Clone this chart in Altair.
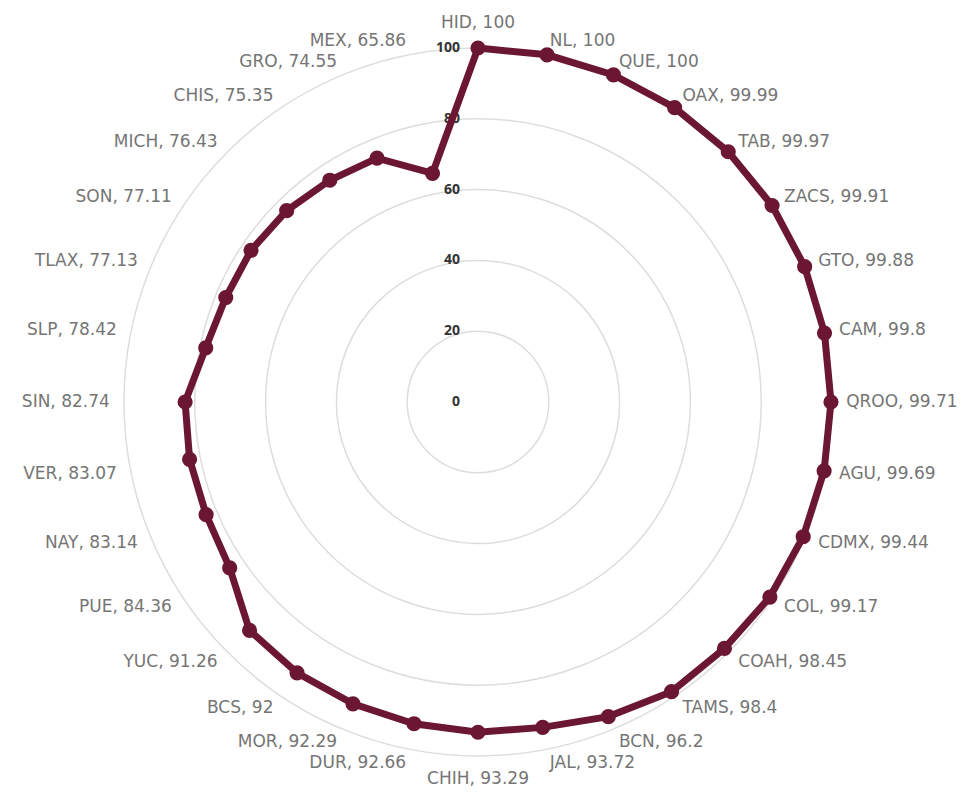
import math
import altair as alt
import pandas as pd

states = ["HID", "NL", "QUE", "OAX", "TAB", "ZACS", "GTO", "CAM", "QROO", "AGU",
          "CDMX", "COL", "COAH", "TAMS", "BCN", "JAL", "CHIH", "DUR", "MOR", "BCS",
          "YUC", "PUE", "NAY", "VER", "SIN", "SLP", "TLAX", "SON", "MICH", "CHIS",
          "GRO", "MEX"]
values = [100, 100, 100, 99.99, 99.97, 99.91, 99.88, 99.8, 99.71, 99.69,
          99.44, 99.17, 98.45, 98.4, 96.2, 93.72, 93.29, 92.66, 92.29, 92,
          91.26, 84.36, 83.14, 83.07, 82.74, 78.42, 77.13, 77.11, 76.43, 75.35,
          74.55, 65.86]
ring_ticks = [0, 20, 40, 60, 80, 100]

N = len(states)
df = pd.DataFrame({"state": states, "value": values, "idx": list(range(N))})
rings = pd.DataFrame({"ring": ring_ticks})

K = 3.54          # pixels per unit
W, H = 956, 785   # whole drawing area
CX, CY = 470, 394 # centre inside the drawing
xdom = [-CX / K, (W - CX) / K]
ydom = [-(H - CY) / K, CY / K]
LABEL_R = 104

xs = alt.Scale(domain=xdom, nice=False, zero=False)
ys = alt.Scale(domain=ydom, nice=False, zero=False)

MAROON = "#6B1733"

base = alt.Chart(df).transform_calculate(
    ang=f"datum.idx * 2 * PI / {N}",
).transform_calculate(
    px="datum.value * sin(datum.ang)",
    py="datum.value * cos(datum.ang)",
    lx=f"{LABEL_R} * sin(datum.ang)",
    ly=f"{LABEL_R} * cos(datum.ang)",
    label="datum.state + ', ' + datum.value",
)

grid = alt.Chart(rings).transform_filter("datum.ring > 0").mark_arc(
    theta=0, theta2=6.2832, fillOpacity=0, stroke="#dddddd", strokeWidth=1.5
).encode(
    x=alt.datum(0, scale=xs, axis=None),
    y=alt.datum(0, scale=ys, axis=None),
    radius=alt.Radius("ring:Q", stack=False,
                      scale=alt.Scale(type="linear", domain=[0, 100], range=[0, 100 * K], zero=True)),
)

ticks = alt.Chart(rings).mark_text(
    align="right", baseline="middle", dx=-18, fontSize=14, fontWeight="bold",
    font="Open Sans", color="#333333"
).encode(
    x=alt.datum(0, scale=xs, axis=None),
    y=alt.Y("ring:Q", scale=ys, axis=None),
    text=alt.Text("ring:Q"),
)

line = base.mark_line(interpolate="linear-closed", strokeWidth=7, color=MAROON).encode(
    x=alt.X("px:Q", scale=xs, axis=None),
    y=alt.Y("py:Q", scale=ys, axis=None),
    order="idx:Q",
)

pts = base.mark_circle(size=230, opacity=1, color=MAROON).encode(
    x=alt.X("px:Q", scale=xs, axis=None),
    y=alt.Y("py:Q", scale=ys, axis=None),
)

def labels(filt, align, baseline, dy=0):
    return base.transform_filter(filt).mark_text(
        align=align, baseline=baseline, dy=dy, fontSize=17, font="DejaVu Sans",
        fontWeight="normal", color="#757575"
    ).encode(
        x=alt.X("lx:Q", scale=xs, axis=None),
        y=alt.Y("ly:Q", scale=ys, axis=None),
        text="label:N",
    )

lab_top = labels("datum.idx == 0", "center", "bottom", dy=-2)
lab_bot = labels(f"datum.idx == {N // 2}", "center", "top", dy=1)
lab_right = labels(f"datum.idx > 0 && datum.idx < {N // 2}", "left", "middle")
lab_left = labels(f"datum.idx > {N // 2}", "right", "middle")

chart = alt.layer(grid, ticks, line, pts, lab_top, lab_bot, lab_right, lab_left).properties(
    width=W, height=H, autosize=alt.AutoSizeParams(type="none"), padding=0
).configure_view(stroke=None)

chart.save("out.html", embed_options={"renderer": "svg", "actions": False})
